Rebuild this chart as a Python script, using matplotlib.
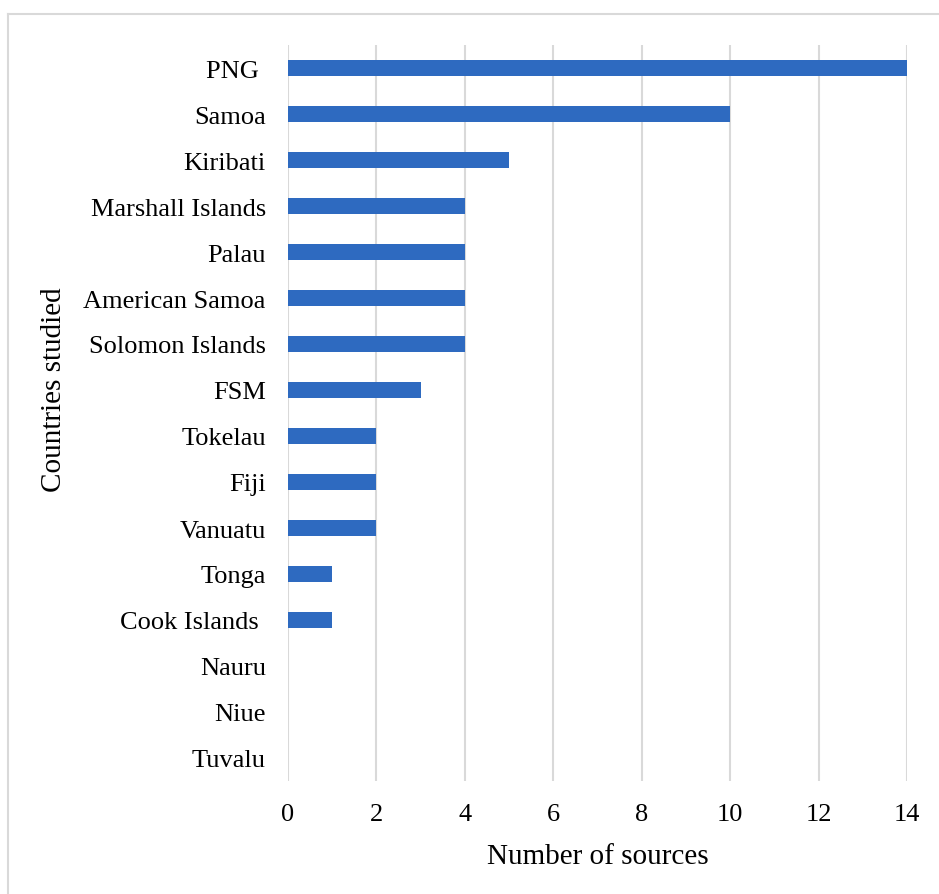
import matplotlib
matplotlib.use("Agg")
import matplotlib.pyplot as plt
from matplotlib.lines import Line2D

countries = ["PNG ", "Samoa", "Kiribati", "Marshall Islands", "Palau",
             "American Samoa", "Solomon Islands", "FSM", "Tokelau", "Fiji",
             "Vanuatu", "Tonga", "Cook Islands ", "Nauru", "Niue", "Tuvalu"]
sources = [14, 10, 5, 4, 4, 4, 4, 3, 2, 2, 2, 1, 1, 0, 0, 0]
xticks = [0, 2, 4, 6, 8, 10, 12, 14]

plt.rcParams['font.family'] = ['Liberation Serif', 'DejaVu Serif']

W, H = 939, 895
fig = plt.figure(figsize=(W / 100, H / 100), dpi=100)
ax = fig.add_axes([288 / W, 1 - 782 / H, (907 - 288) / W, (782 - 46) / H])

ypos = list(range(len(countries)))
ax.barh(ypos, sources, height=0.33, color='#2E6AC0', zorder=3)
ax.set_ylim(len(countries) - 0.5, -0.5)
ax.set_xlim(0, 14)
ax.set_yticks(ypos)
ax.set_yticklabels(countries)
ax.set_xticks(xticks)

ax.grid(axis='x', color='#D9D9D9', linewidth=1.5, zorder=0)
for s in ax.spines.values():
    s.set_visible(False)
ax.tick_params(axis='both', length=0, labelsize=19)
ax.tick_params(axis='y', pad=16)
ax.tick_params(axis='x', pad=16)

ax.set_xlabel('Number of sources', fontsize=21, labelpad=13)
ax.set_ylabel('Countries studied', fontsize=21)
ax.yaxis.set_label_coords(-0.357, 0.533)

# light frame around chart area
fig.add_artist(Line2D([8 / W, 8 / W], [0, 1 - 15 / H], color='#D9D9D9', lw=1.5,
                      transform=fig.transFigure))
fig.add_artist(Line2D([8 / W, 1], [1 - 15 / H, 1 - 15 / H], color='#D9D9D9', lw=1.5,
                      transform=fig.transFigure))

fig.savefig('out.png', dpi=100)
